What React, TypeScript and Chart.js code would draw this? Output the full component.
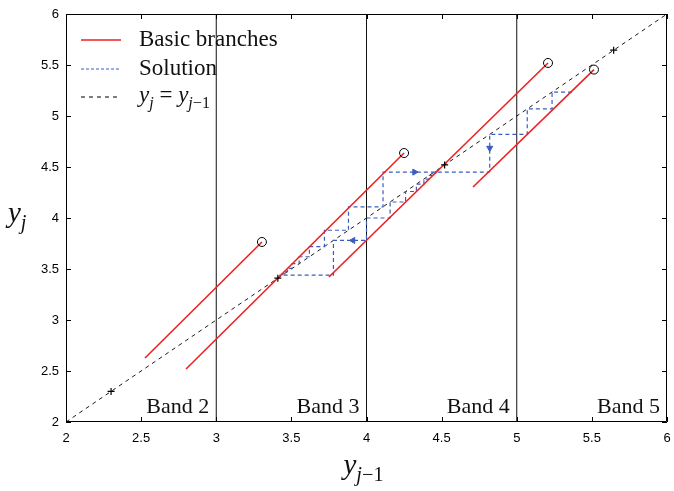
import React, { useEffect, useRef } from 'react';
import { Chart, registerables } from 'chart.js';
Chart.register(...registerables);

// ---- data ----
const axisMin = 2;
const axisMax = 6;
const tickStep = 0.5;

const branchStartX = [2.526, 2.799, 3.75, 4.709];
const branchStartY = [2.627, 2.52, 3.422, 4.304];
const branchEndX = [3.304, 4.25, 5.208, 5.514];
const branchEndY = [3.765, 4.637, 5.52, 5.455];

const fixedPoints = [2.3, 3.41, 4.52, 5.645];
const bandEdges = [3, 4, 5];
const bandLabels = ['Band 2', 'Band 3', 'Band 4', 'Band 5'];
const bandLabelEdges = [3, 4, 5, 6];

// solution staircase along branch 2 (moving up)
const solAX = [3.438, 3.438, 3.453, 3.453, 3.474, 3.474, 3.506, 3.506, 3.552, 3.552, 3.62, 3.62, 3.72, 3.72, 3.88, 3.88, 4.11, 4.11, 4.82];
const solAY = [3.438, 3.453, 3.453, 3.474, 3.474, 3.506, 3.506, 3.552, 3.552, 3.62, 3.62, 3.72, 3.72, 3.88, 3.88, 4.11, 4.11, 4.45, 4.45];
// solution staircase along branch 4 (moving down)
const solBX = [5.368, 5.235, 5.235, 5.07, 5.07, 4.82, 4.82];
const solBY = [5.235, 5.235, 5.07, 5.07, 4.82, 4.82, 4.45];
// solution staircase along branch 3 (moving down)
const solCX = [4.46, 4.46, 4.44, 4.44, 4.417, 4.417, 4.382, 4.382, 4.332, 4.332, 4.26, 4.26, 4.157, 4.157, 4.0, 4.0, 3.78, 3.78, 3.42];
const solCY = [4.46, 4.44, 4.44, 4.417, 4.417, 4.382, 4.382, 4.332, 4.332, 4.26, 4.26, 4.157, 4.157, 4.0, 4.0, 3.78, 3.78, 3.44, 3.44];

const arrowX = [4.32, 3.91, 4.82];
const arrowY = [4.45, 3.78, 4.686];
const arrowRot = [90, 270, 180];

const RED = '#ee2020';
const BLUE = '#3a5dc0';

const pts = (xs: number[], ys: number[]) => xs.map((x, i) => ({ x, y: ys[i] }));

type MathPart = { t: string; it?: boolean; sub?: boolean };

function mathWidth(ctx: CanvasRenderingContext2D, parts: MathPart[], size: number) {
  let w = 0;
  for (const p of parts) {
    const fs = p.sub ? size * 0.7 : size;
    ctx.font = `${p.it ? 'italic ' : ''}${fs}px "Liberation Serif"`;
    w += ctx.measureText(p.t).width;
  }
  return w;
}

function drawMath(ctx: CanvasRenderingContext2D, x: number, baseline: number, parts: MathPart[], size: number) {
  let cx = x;
  ctx.textBaseline = 'alphabetic';
  ctx.textAlign = 'left';
  for (const p of parts) {
    const fs = p.sub ? size * 0.7 : size;
    ctx.font = `${p.it ? 'italic ' : ''}${fs}px "Liberation Serif"`;
    const yy = p.sub ? baseline + size * 0.25 : baseline;
    ctx.fillText(p.t, cx, yy);
    cx += ctx.measureText(p.t).width;
  }
}

const decorPlugin = {
  id: 'decor',
  afterDraw(chart: any) {
    const ctx: CanvasRenderingContext2D = chart.ctx;
    const { left, right, top, bottom } = chart.chartArea;
    const xs = chart.scales.x;
    const ys = chart.scales.y;
    ctx.save();
    // box
    ctx.strokeStyle = '#000';
    ctx.lineWidth = 1;
    ctx.beginPath();
    ctx.rect(left + 0.5, top + 0.5, right - left - 1, bottom - top - 1);
    ctx.stroke();
    // inward ticks
    const tl = 5;
    ctx.beginPath();
    for (let v = axisMin; v <= axisMax + 1e-9; v += tickStep) {
      const px = Math.round(xs.getPixelForValue(v)) + 0.5;
      ctx.moveTo(px, bottom); ctx.lineTo(px, bottom - tl);
      ctx.moveTo(px, top); ctx.lineTo(px, top + tl);
      const py = Math.round(ys.getPixelForValue(v)) + 0.5;
      ctx.moveTo(left, py); ctx.lineTo(left + tl, py);
      ctx.moveTo(right, py); ctx.lineTo(right - tl, py);
    }
    ctx.stroke();

    // band labels
    ctx.fillStyle = '#111';
    ctx.font = '22px "Liberation Serif"';
    ctx.textAlign = 'right';
    ctx.textBaseline = 'alphabetic';
    bandLabels.forEach((lab, i) => {
      const px = xs.getPixelForValue(bandLabelEdges[i]);
      ctx.fillText(lab, px - 7, bottom - 9);
    });

    // legend
    const lx0 = left + 15, lx1 = left + 55, tx = left + 73;
    const rows = [top + 26, top + 55, top + 83];
    ctx.lineWidth = 1.5;
    ctx.strokeStyle = RED;
    ctx.setLineDash([]);
    ctx.beginPath(); ctx.moveTo(lx0, rows[0]); ctx.lineTo(lx1, rows[0]); ctx.stroke();
    ctx.lineWidth = 1.2;
    ctx.strokeStyle = BLUE;
    ctx.setLineDash([3, 2]);
    ctx.beginPath(); ctx.moveTo(lx0, rows[1]); ctx.lineTo(lx1, rows[1]); ctx.stroke();
    ctx.strokeStyle = '#000';
    ctx.setLineDash([4, 4]);
    ctx.beginPath(); ctx.moveTo(lx0, rows[2]); ctx.lineTo(lx1, rows[2]); ctx.stroke();
    ctx.setLineDash([]);
    ctx.fillStyle = '#111';
    ctx.font = '23px "Liberation Serif"';
    ctx.textAlign = 'left';
    ctx.textBaseline = 'middle';
    ctx.fillText('Basic branches', tx, rows[0]);
    ctx.fillText('Solution', tx, rows[1]);
    drawMath(ctx, tx, rows[2] + 5, [
      { t: 'y', it: true }, { t: 'j', it: true, sub: true },
      { t: ' = ' },
      { t: 'y', it: true }, { t: 'j', it: true, sub: true }, { t: '\u22121', sub: true },
    ], 23);

    // axis titles
    const xParts: MathPart[] = [{ t: 'y', it: true }, { t: 'j', it: true, sub: true }, { t: '\u22121', sub: true }];
    const xw = mathWidth(ctx, xParts, 29);
    drawMath(ctx, (left + right) / 2 - xw / 2 - 3, 474, xParts, 29);
    const yParts: MathPart[] = [{ t: 'y', it: true }, { t: 'j', it: true, sub: true }];
    drawMath(ctx, 8, (top + bottom) / 2 + 4, yParts, 29);
    ctx.restore();
  },
};

export default function App() {
  const ref = useRef<HTMLCanvasElement>(null);
  useEffect(() => {
    if (!ref.current) return;
    const datasets: any[] = [];
    // circles at branch ends
    datasets.push({
      data: pts(branchEndX, branchEndY), showLine: false,
      pointStyle: 'circle', pointRadius: 4.5, pointBorderColor: '#000', pointBackgroundColor: 'rgba(0,0,0,0)', pointBorderWidth: 1,
    });
    // fixed point markers
    datasets.push({
      data: fixedPoints.map((v) => ({ x: v, y: v })), showLine: false,
      pointStyle: 'cross', pointRadius: 3.5, pointBorderColor: '#000', pointBorderWidth: 1.2,
    });
    // red branches
    branchStartX.forEach((_, i) => {
      datasets.push({
        data: [{ x: branchStartX[i], y: branchStartY[i] }, { x: branchEndX[i], y: branchEndY[i] }],
        showLine: true, borderColor: RED, borderWidth: 1.6, pointRadius: 0,
      });
    });
    // arrows
    datasets.push({
      data: pts(arrowX, arrowY), showLine: false,
      pointStyle: 'triangle', pointRadius: 3.5, pointRotation: arrowRot,
      pointBackgroundColor: BLUE, pointBorderColor: BLUE, pointBorderWidth: 1,
    });
    // solution
    [[solAX, solAY], [solBX, solBY], [solCX, solCY]].forEach(([xs, ys]) => {
      datasets.push({
        data: pts(xs, ys), showLine: true, borderColor: BLUE, borderWidth: 1.2,
        borderDash: [4, 3], pointRadius: 0, tension: 0,
      });
    });
    // diagonal
    datasets.push({
      data: [{ x: axisMin, y: axisMin }, { x: axisMax, y: axisMax }], showLine: true,
      borderColor: '#000', borderWidth: 0.9, borderDash: [4, 4], pointRadius: 0,
    });
    // band lines
    bandEdges.forEach((b) => {
      datasets.push({
        data: [{ x: b, y: axisMin }, { x: b, y: axisMax }], showLine: true,
        borderColor: '#111', borderWidth: 1, pointRadius: 0,
      });
    });

    const fmt = (v: any) => String(Math.round(Number(v) * 10) / 10);

    const chart = new Chart(ref.current, {
      type: 'scatter',
      data: { datasets },
      options: {
        animation: false,
        responsive: false,
        layout: { padding: { top: 14, right: 7, left: 0, bottom: 0 } },
        plugins: { legend: { display: false }, tooltip: { enabled: false } },
        scales: {
          x: {
            type: 'linear', min: axisMin, max: axisMax,
            ticks: { stepSize: tickStep, color: '#000', padding: 9, maxRotation: 0, autoSkip: false, callback: fmt, font: { family: 'Liberation Sans', size: 13 } },
            grid: { display: false, drawTicks: false },
            border: { display: false },
            afterFit: (s: any) => { s.height = 69; s.paddingLeft = 0; s.paddingRight = 0; },
          },
          y: {
            type: 'linear', min: axisMin, max: axisMax,
            ticks: { stepSize: tickStep, color: '#000', padding: 7, autoSkip: false, callback: fmt, font: { family: 'Liberation Sans', size: 13 } },
            grid: { display: false, drawTicks: false },
            border: { display: false },
            afterFit: (s: any) => { s.width = 66; s.paddingTop = 0; s.paddingBottom = 0; },
          },
        },
      } as any,
      plugins: [decorPlugin],
    });
    return () => chart.destroy();
  }, []);
  return (
    <div style={{ position: 'absolute', left: 0, top: 0, width: 674, height: 491, background: '#fff' }}>
      <canvas ref={ref} width={674} height={491} style={{ display: 'block' }} />
    </div>
  );
}
